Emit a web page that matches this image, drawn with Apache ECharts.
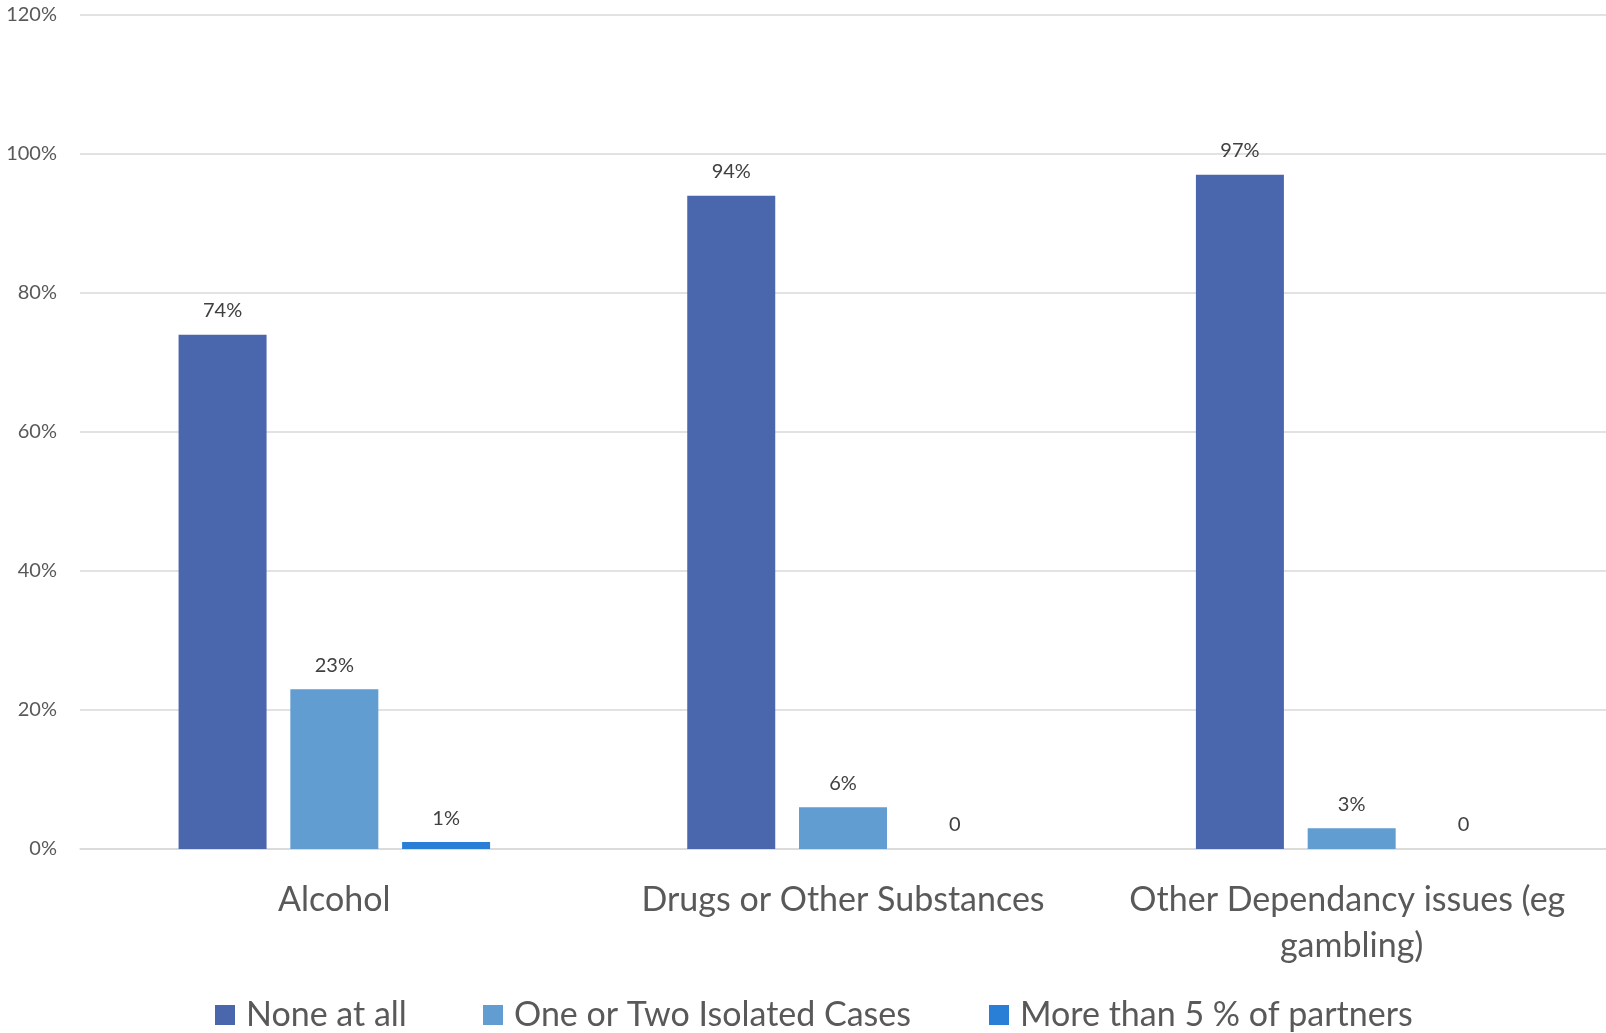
<!DOCTYPE html>
<html>
<head>
<meta charset="utf-8">
<title>Dependency issues among partners</title>
<script src="https://cdn.jsdelivr.net/npm/echarts@6/dist/echarts.min.js"></script>
<style>
  html, body { margin: 0; padding: 0; background: #ffffff; }
  #chart { width: 1606px; height: 1033px; }
</style>
</head>
<body>
<div id="chart"></div>
<script>
// Categories and series values (percent of respondents)
const categories = ['Alcohol', 'Drugs or Other Substances', 'Other Dependancy issues (eg gambling)'];
const seriesNames = ['None at all', 'One or Two Isolated Cases', 'More than 5 % of partners'];
const noneAtAll = [74, 94, 97];
const isolatedCases = [23, 6, 3];
const moreThanFive = [1, 0, 0];
const yTicks = { min: 0, max: 120, interval: 20 };

const colors = ['#4A66AC', '#629DD1', '#297FD5'];
const FONT = 'Lato, "Open Sans", sans-serif';

const chart = echarts.init(document.getElementById('chart'), null, { renderer: 'canvas' });

function barSeries(name, data, color) {
  return {
    name: name,
    type: 'bar',
    data: data,
    barWidth: 88,
    barGap: '27%',
    itemStyle: { color: color },
    label: {
      show: true,
      position: 'top',
      distance: 14,
      color: '#404040',
      fontFamily: FONT,
      fontSize: 20,
      formatter: p => (p.value === 0 ? '0' : p.value + '%')
    }
  };
}

// One legend per series so each entry sits at its own x position
function legendAt(left, name) {
  return {
    left: left,
    top: 998,
    padding: 0,
    itemWidth: 20,
    itemHeight: 20,
    icon: 'rect',
    data: [name],
    selectedMode: false,
    textStyle: {
      color: '#595959',
      fontFamily: FONT,
      fontSize: 34,
      padding: [0, 0, 0, 6]
    }
  };
}

chart.setOption({
  animation: false,
  color: colors,
  grid: { left: 80, right: 0, top: 15, bottom: 184 },
  legend: [
    legendAt(215, seriesNames[0]),
    legendAt(483, seriesNames[1]),
    legendAt(989, seriesNames[2])
  ],
  xAxis: {
    type: 'category',
    data: categories,
    axisTick: { show: false },
    axisLine: { show: true, lineStyle: { color: '#d9d9d9', width: 1.5 } },
    axisLabel: {
      color: '#595959',
      fontFamily: FONT,
      fontSize: 34,
      lineHeight: 46,
      margin: 28,
      width: 480,
      overflow: 'break',
      interval: 0
    }
  },
  yAxis: {
    type: 'value',
    min: yTicks.min,
    max: yTicks.max,
    interval: yTicks.interval,
    axisLine: { show: false },
    axisTick: { show: false },
    splitLine: { lineStyle: { color: '#d9d9d9', width: 1.5 } },
    axisLabel: {
      color: '#595959',
      fontFamily: FONT,
      fontSize: 20,
      margin: 23,
      formatter: '{value}%'
    }
  },
  series: [
    barSeries(seriesNames[0], noneAtAll, colors[0]),
    barSeries(seriesNames[1], isolatedCases, colors[1]),
    barSeries(seriesNames[2], moreThanFive, colors[2])
  ]
});
</script>
</body>
</html>
